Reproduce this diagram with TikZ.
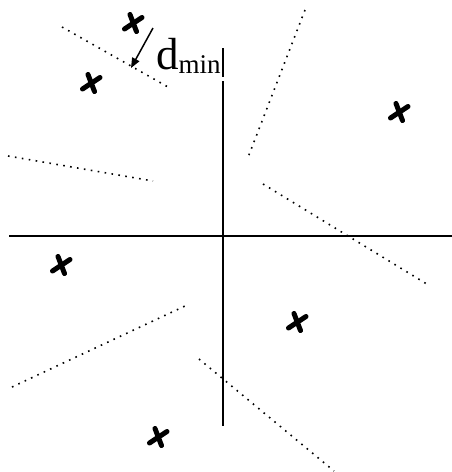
\documentclass[tikz,border=0pt]{standalone}
\usepackage{fontspec}
\setmainfont{Liberation Serif}
\usetikzlibrary{arrows.meta}
\begin{document}
\begin{tikzpicture}[x=1pt,y=-1pt,
  axis/.style={line width=2pt},
  bound/.style={line width=1.6pt, dash pattern=on 1.6pt off 5.4pt},
  xmark/.pic={\draw[line width=5pt,line cap=round] (-3,-8.5) -- (3.5,8.5) (9,-5.5) -- (-8.5,6);},
  lbl/.style={inner sep=0pt, anchor=base west}]
\useasboundingbox (0,0) rectangle (452,472);
% axes
\coordinate (xl) at (9,236);
\coordinate (xr) at (452,236);
\coordinate (yt) at (223,48);
\coordinate (yg1) at (223,77);
\coordinate (yg2) at (223,81);
\coordinate (yb) at (223,426);
\draw[axis] (xl) -- (xr);
\draw[axis] (yt) -- (yg1);
\draw[axis] (yg2) -- (yb);
% decision boundaries
\coordinate (a1) at (62,27);  \coordinate (a2) at (168,87);
\coordinate (b1) at (8,156);  \coordinate (b2) at (153,181);
\coordinate (c1) at (305,10); \coordinate (c2) at (247,160);
\coordinate (d1) at (263,184); \coordinate (d2) at (430,286);
\coordinate (e1) at (12,387); \coordinate (e2) at (185,306);
\coordinate (f1) at (199,359); \coordinate (f2) at (334,471);
\draw[bound] (a1) -- (a2);
\draw[bound] (b1) -- (b2);
\draw[bound] (c1) -- (c2);
\draw[bound] (d1) -- (d2);
\draw[bound] (e1) -- (e2);
\draw[bound] (f1) -- (f2);
% signal points
\pic at (133,23) {xmark};
\pic at (91,83) {xmark};
\pic at (399,112) {xmark};
\pic at (61,265) {xmark};
\pic at (297,322) {xmark};
\pic at (158,437) {xmark};
% d_min
\coordinate (ar1) at (153,28);
\coordinate (ar2) at (131,68);
\draw[line width=1.5pt,-{Triangle[length=10pt,width=8pt]}] (ar1) -- (ar2);
\node[lbl] (dmin) at (156,69) {\fontsize{45}{50}\selectfont d\raisebox{-4.5pt}{\fontsize{27}{30}\selectfont min}};
\end{tikzpicture}
\end{document}
